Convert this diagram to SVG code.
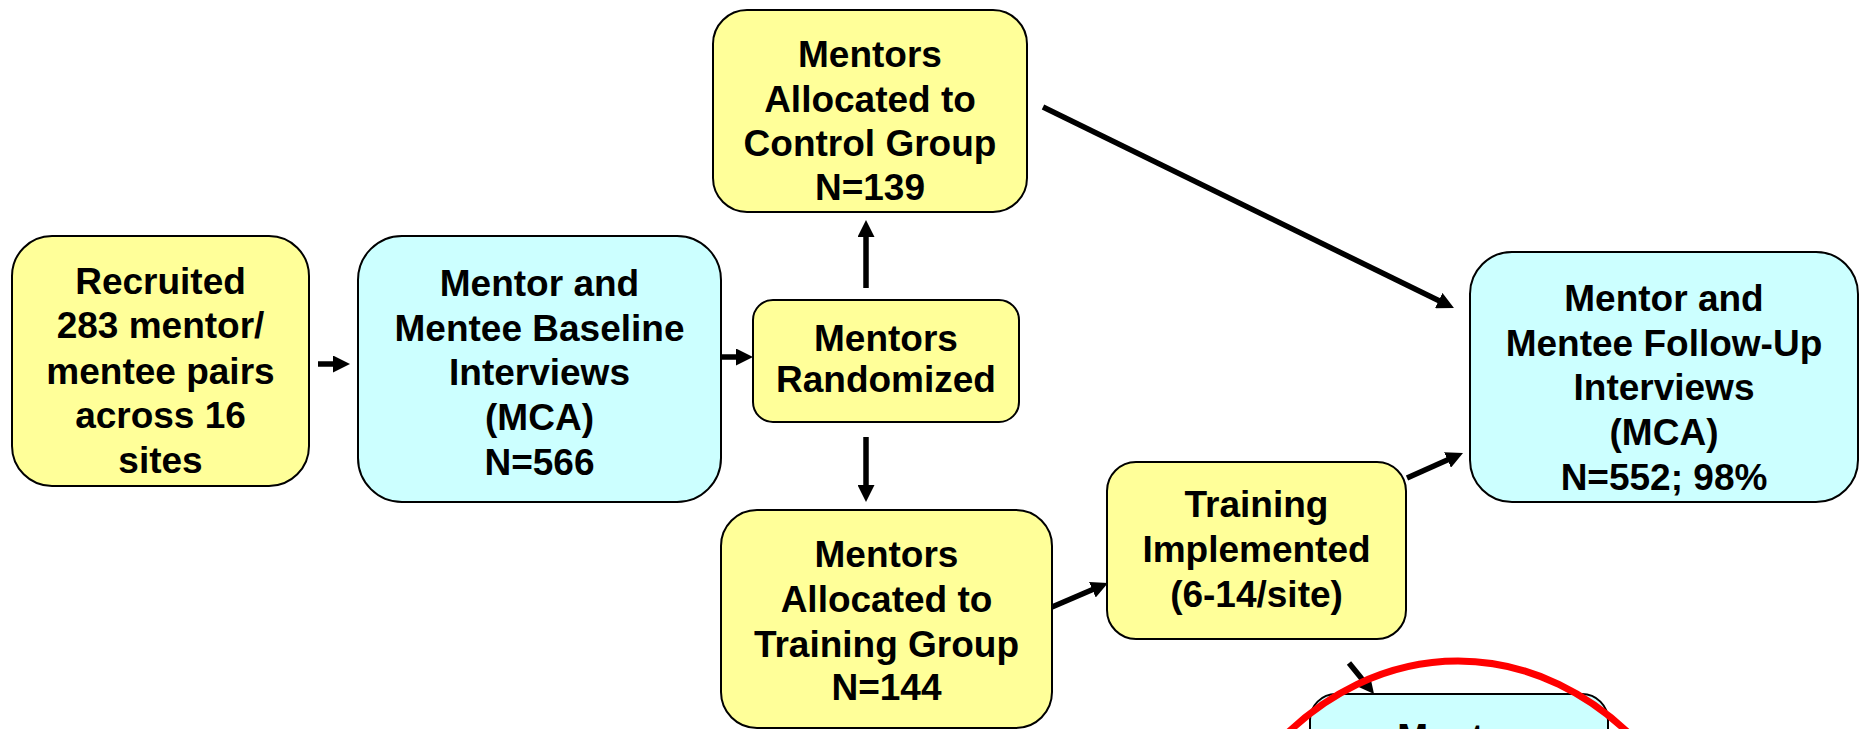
<svg xmlns="http://www.w3.org/2000/svg" width="1866" height="729" viewBox="0 0 1866 729">
<style>
.y{fill:#FFFF99;stroke:#000;stroke-width:2}
.c{fill:#CCFFFF;stroke:#000;stroke-width:2}
text{font-family:"Liberation Sans",Arial,sans-serif;font-weight:bold;font-size:37px;fill:#000;text-anchor:middle}
.a{stroke:#000;stroke-width:5.5;fill:none;marker-end:url(#ah)}
</style>
<defs>
<marker id="ah" viewBox="0 0 17 17" refX="1" refY="8.5" markerWidth="17" markerHeight="17" markerUnits="userSpaceOnUse" orient="auto">
<path d="M0,0 L17,8.5 L0,17 z" fill="#000"/>
</marker>
</defs>
<rect width="1866" height="729" fill="#fff"/>
<g id="recruited">
<rect class="y" x="12" y="236" width="297" height="250" rx="40"/>
<text x="160.5" y="294">Recruited</text>
<text x="160.5" y="338">283 mentor/</text>
<text x="160.5" y="384">mentee pairs</text>
<text x="160.5" y="428">across 16</text>
<text x="160.5" y="473">sites</text>
</g>
<g id="baseline">
<rect class="c" x="358" y="236" width="363" height="266" rx="44"/>
<text x="539.5" y="296">Mentor and</text>
<text x="539.5" y="341">Mentee Baseline</text>
<text x="539.5" y="385">Interviews</text>
<text x="539.5" y="430">(MCA)</text>
<text x="539.5" y="475">N=566</text>
</g>
<g id="randomized">
<rect class="y" x="753" y="300" width="266" height="122" rx="20"/>
<text x="886" y="351">Mentors</text>
<text x="886" y="392">Randomized</text>
</g>
<g id="control">
<rect class="y" x="713" y="10" width="314" height="202" rx="34"/>
<text x="870" y="67">Mentors</text>
<text x="870" y="112">Allocated to</text>
<text x="870" y="156">Control Group</text>
<text x="870" y="200">N=139</text>
</g>
<g id="traininggroup">
<rect class="y" x="721" y="510" width="331" height="218" rx="36"/>
<text x="886.5" y="567">Mentors</text>
<text x="886.5" y="612">Allocated to</text>
<text x="886.5" y="657">Training Group</text>
<text x="886.5" y="700">N=144</text>
</g>
<g id="trainingimpl">
<rect class="y" x="1107" y="462" width="299" height="177" rx="29"/>
<text x="1256.5" y="517">Training</text>
<text x="1256.5" y="562">Implemented</text>
<text x="1256.5" y="607">(6-14/site)</text>
</g>
<g id="followup">
<rect class="c" x="1470" y="252" width="388" height="250" rx="42"/>
<text x="1664" y="311">Mentor and</text>
<text x="1664" y="356">Mentee Follow-Up</text>
<text x="1664" y="400">Interviews</text>
<text x="1664" y="445">(MCA)</text>
<text x="1664" y="490">N=552; 98%</text>
</g>
<g id="bottom">
<rect class="c" x="1310" y="694" width="298" height="200" rx="26"/>
<text x="1459" y="750">Mentor</text>
</g>
<g id="connectors">
<line class="a" x1="318" y1="364" x2="334" y2="364"/>
<line class="a" x1="721" y1="357" x2="737" y2="357"/>
<line class="a" x1="866" y1="288" x2="866" y2="236"/>
<line class="a" x1="866" y1="437" x2="866" y2="486"/>
<line class="a" x1="1043" y1="107" x2="1439.6" y2="301"/>
<line class="a" x1="1052" y1="607" x2="1093.3" y2="589.3"/>
<line class="a" x1="1407" y1="478" x2="1448.4" y2="459.5"/>
<line class="a" x1="1349" y1="663" x2="1364" y2="681.5"/>
</g>
<ellipse id="highlight" cx="1458" cy="993" rx="274" ry="332" fill="none" stroke="#FF0000" stroke-width="7"/>
</svg>
